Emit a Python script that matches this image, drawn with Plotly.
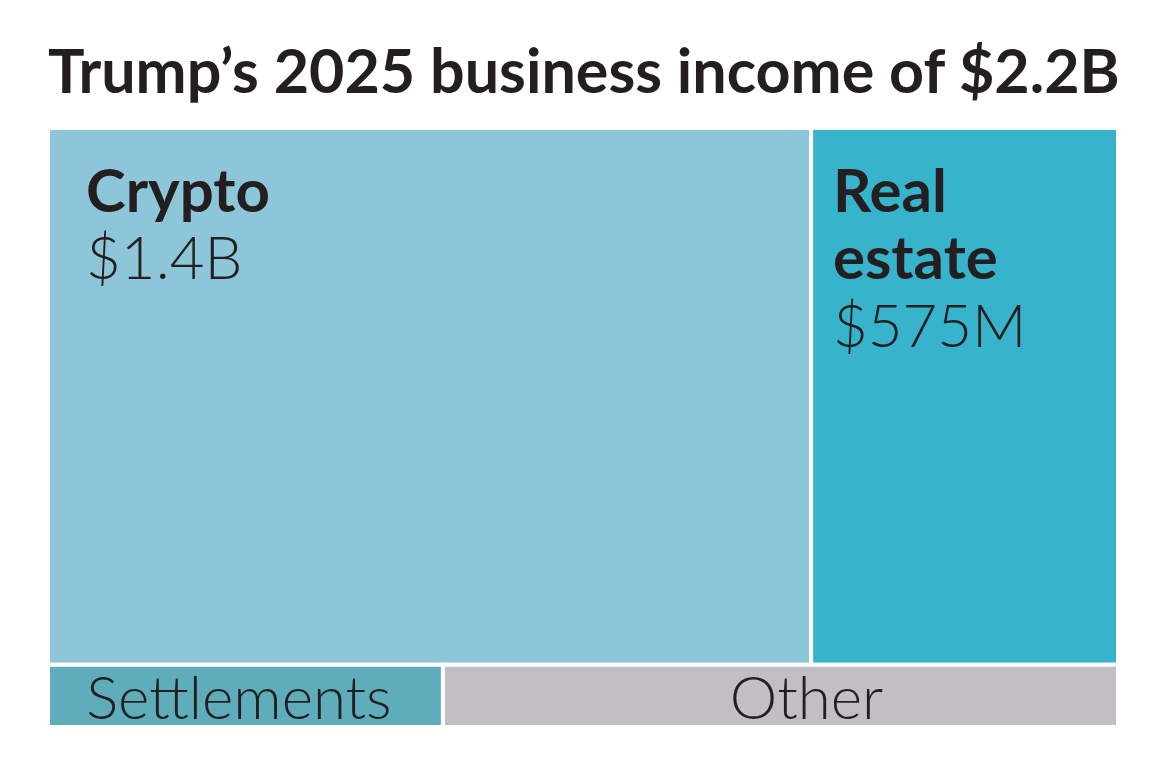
import plotly.graph_objects as go

# ---- data ----
title_text = "Trump\u2019s 2025 business income of $2.2B"
top_categories = ["Crypto", "Real estate"]
top_values = [1430, 575]            # $ millions (read from tile areas)
top_value_labels = ["$1.4B", "$575M"]
top_name_lines = [["Crypto"], ["Real", "estate"]]
bottom_categories = ["Settlements", "Other"]
bottom_values = [86, 147]           # $ millions (read from tile areas)

top_colors = ["#8DC6D8", "#37B3CC"]
bottom_colors = ["#5FADBB", "#C1BFC3"]

# ---- styling ----
FONT = "Lato"
TEXT = "#231F20"
BASE = 13          # base font size -> line step of 1.3*BASE px per <br>
BIG = 60           # visible label size
STEP = "<br>" * 4  # ~68px between label lines
top_indent_size = [43, 23]          # px size of the 3-nbsp left indent per tile
bottom_pad = [("", "\u00a0"), ("\u00a0\u00a0\u00a0\u00a0", "")]  # (lead, trail)


def big(s, weight):
    return f'<span style="font-size:{BIG}px;font-weight:{weight}">{s}</span>'


def pad(s, size=48):
    return f'<span style="font-size:{size}px">{s}</span>' if s else ""


top_text = []
for name_lines, v, ind in zip(top_name_lines, top_value_labels, top_indent_size):
    indent = pad("\u00a0\u00a0\u00a0", ind)
    lines = [indent + big(p, 700) for p in name_lines] + [indent + big(v, 300)]
    top_text.append("\u00a0" + STEP + STEP.join(lines))

bottom_text = [pad(lead) + big(c, 300) + pad(trail)
               for c, (lead, trail) in zip(bottom_categories, bottom_pad)]

total = sum(top_values) + sum(bottom_values)
split = sum(bottom_values) / total

common = dict(
    parents=["", ""],
    texttemplate="%{text}",
    sort=False,
    tiling=dict(packing="dice", pad=0),
    textfont=dict(family=FONT, size=BASE, color=TEXT, weight=300),
    hoverinfo="label+value",
    pathbar=dict(visible=False),
)

fig = go.Figure()
fig.add_trace(go.Treemap(
    labels=top_categories,
    values=top_values,
    text=top_text,
    textposition="top left",
    marker=dict(colors=top_colors, line=dict(color="white", width=4),
                pad=dict(t=0, l=0, r=0, b=0)),
    domain=dict(x=[0, 1], y=[split, 1]),
    **common,
))
fig.add_trace(go.Treemap(
    labels=bottom_categories,
    values=bottom_values,
    text=bottom_text,
    textposition="middle center",
    marker=dict(colors=bottom_colors, line=dict(color="white", width=4),
                pad=dict(t=0, l=0, r=0, b=0)),
    domain=dict(x=[0, 1], y=[0, split]),
    **common,
))

fig.update_layout(
    width=1170, height=782,
    margin=dict(l=48, r=52, t=128, b=55),
    paper_bgcolor="white",
    plot_bgcolor="white",
    uniformtext=dict(minsize=BASE, mode="show"),
    title=dict(
        text=f"<b>{title_text}</b>",
        x=48 / 1170, xanchor="left", xref="container",
        y=1 - 93 / 782, yanchor="bottom", yref="container",
        font=dict(family=FONT, size=61, color=TEXT),
        pad=dict(t=0, b=0, l=0, r=0),
    ),
)

fig.write_html("out.html")
